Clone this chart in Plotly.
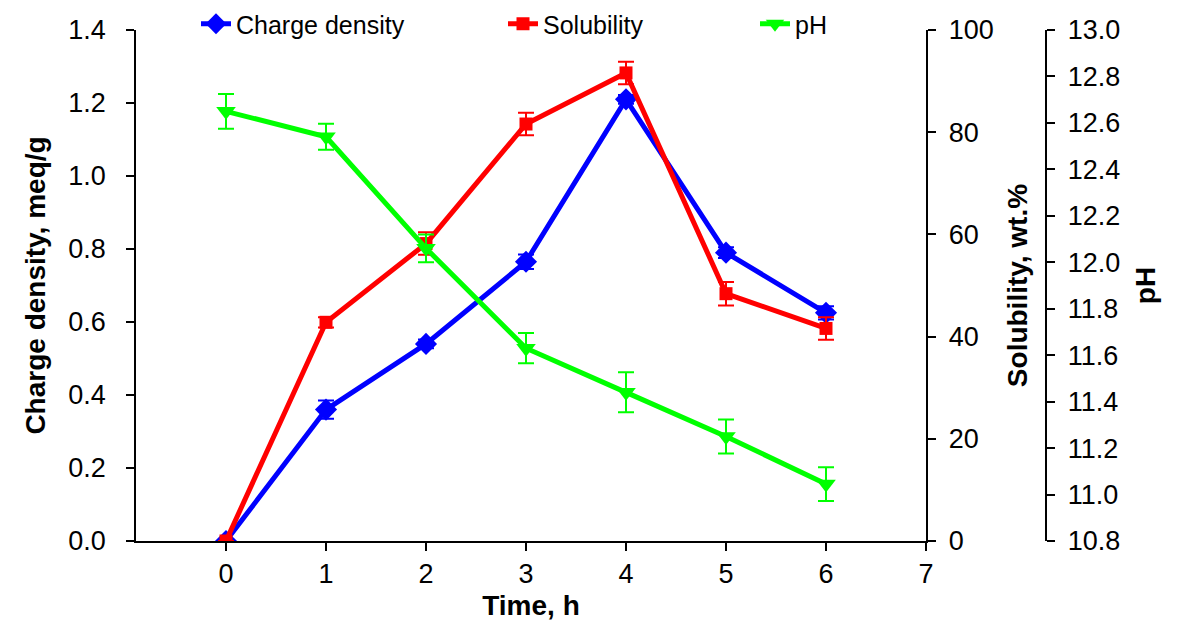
import plotly.graph_objects as go

time_h = [0, 1, 2, 3, 4, 5, 6]
charge_density = [0.0, 0.36, 0.54, 0.765, 1.21, 0.79, 0.625]
charge_err = [0.0, 0.025, 0.012, 0.02, 0.012, 0.015, 0.018]
solubility = [0.0, 42.8, 58.2, 81.6, 91.6, 48.4, 41.6]
solubility_err = [0.0, 1.0, 2.2, 2.2, 2.2, 2.3, 2.2]
ph = [12.65, 12.54, 12.06, 11.63, 11.44, 11.25, 11.045]
ph_err = [0.075, 0.056, 0.06, 0.065, 0.086, 0.073, 0.073]

FONT = "Liberation Sans, Arial, sans-serif"
OFF = 8  # page body margin
W, H = 1184 - OFF, 621 - OFF
ML = 136 - OFF
MT = 30 - OFF
MR = W - (1046 - OFF)
MB = H - (541 - OFF)
PW = W - ML - MR
PH_ = H - MT - MB
x_end = (926 - 136) / PW
NB = "\u00a0"

fig = go.Figure()
fig.add_trace(go.Scatter(
    x=time_h, y=charge_density, name="Charge density", mode="lines+markers",
    line=dict(color="#0000ff", width=5),
    marker=dict(symbol="diamond", size=17, color="#0000ff"),
    error_y=dict(type="data", array=charge_err, color="#0000ff", thickness=2, width=8),
    yaxis="y", legend="legend", showlegend=True))
fig.add_trace(go.Scatter(
    x=time_h, y=solubility, name="Solubility", mode="lines+markers",
    line=dict(color="#ff0000", width=5),
    marker=dict(symbol="square", size=13, color="#ff0000"),
    error_y=dict(type="data", array=solubility_err, color="#ff0000", thickness=2, width=8),
    yaxis="y2", legend="legend2", showlegend=True))
fig.add_trace(go.Scatter(
    x=time_h, y=ph, name="pH", mode="lines+markers",
    line=dict(color="#00ff00", width=5),
    marker=dict(symbol="triangle-down", size=17, color="#00ff00"),
    error_y=dict(type="data", array=ph_err, color="#00ff00", thickness=2, width=8),
    yaxis="y3", legend="legend3", showlegend=True))

axis_common = dict(showline=True, linecolor="black", linewidth=1.5, ticks="outside",
                   ticklen=8, tickcolor="black", tickwidth=1.5, showgrid=False,
                   zeroline=False, automargin=False,
                   tickfont=dict(family=FONT, size=27, color="black"))

TFONT = dict(family=FONT, size=28, color="black")
LFONT = dict(family=FONT, size=25, color="black")
leg_y = 1 + (30 - 24) / PH_

def legend_at(text_px):
    # text_px: page x where the legend text should start
    px = text_px - OFF - 40
    return dict(x=(px - ML) / PW, y=leg_y, xanchor="left", yanchor="middle",
                font=LFONT, bgcolor="rgba(0,0,0,0)")

fig.update_layout(
    width=W, height=H, margin=dict(l=ML, r=MR, t=MT, b=MB, autoexpand=False),
    plot_bgcolor="white", paper_bgcolor="white", showlegend=True,
    font=dict(family=FONT, color="black"),
    xaxis=dict(domain=[0, x_end], range=[-0.9, 7], dtick=1, tick0=0,
               title=dict(text="<b>Time, h</b>", font=TFONT),
               **axis_common),
    yaxis=dict(range=[0, 1.4], dtick=0.2, tickformat=".1f", ticksuffix=NB + NB,
               title=dict(text="<b>Charge density, meq/g</b>", font=TFONT),
               **axis_common),
    yaxis2=dict(range=[0, 100], dtick=20, overlaying="y", side="right", anchor="x",
                tickprefix=NB,
                title=dict(text="<b>Solubility, wt.%</b>", font=TFONT),
                **axis_common),
    yaxis3=dict(range=[10.8, 13.0], dtick=0.2, tickformat=".1f", overlaying="y", side="right",
                anchor="free", position=1.0, tickprefix=NB,
                title=dict(text="<b>pH</b>", font=TFONT),
                **axis_common),
    legend=legend_at(236),
    legend2=legend_at(543),
    legend3=legend_at(795),
)

fig.write_html("out.html")
